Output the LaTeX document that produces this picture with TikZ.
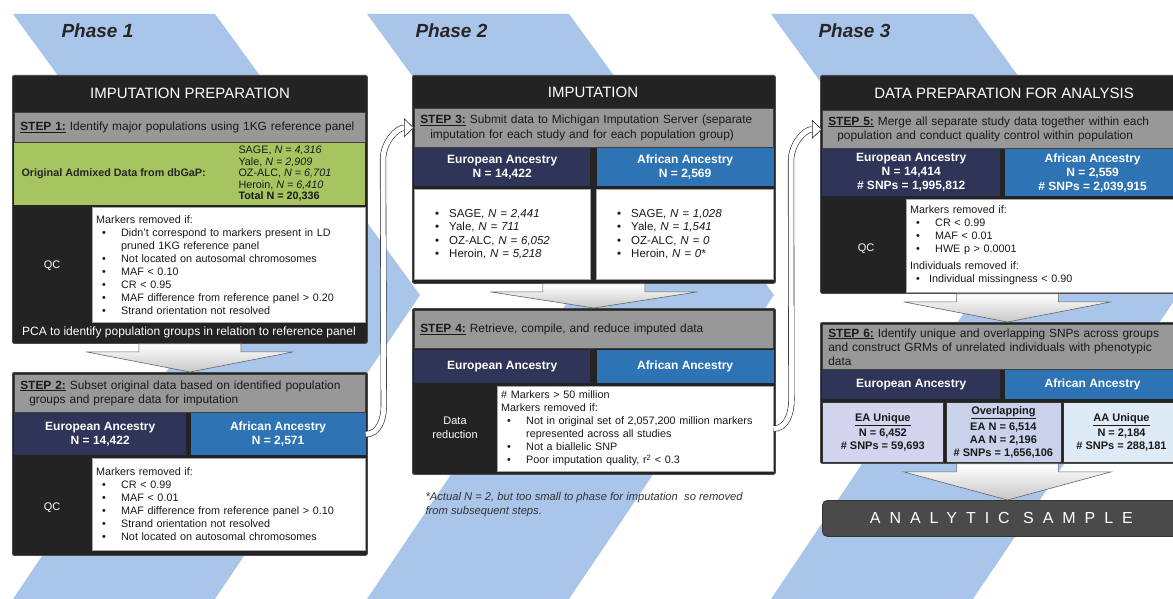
\documentclass[tikz,border=0pt]{standalone}
\usepackage{fontspec}
\setmainfont{Liberation Sans}
\usepackage{tikz}
\usetikzlibrary{arrows.meta,positioning,calc}

\definecolor{boxblack}{HTML}{232323}
\definecolor{stepgrey}{HTML}{989898}
\definecolor{eanavy}{HTML}{2F3558}
\definecolor{aablue}{HTML}{2E74B5}
\definecolor{admixgreen}{HTML}{A6C560}
\definecolor{phaseblue}{HTML}{A9C6EA}
\definecolor{eauniq}{HTML}{D3D4ED}
\definecolor{overlap}{HTML}{C9D1EB}
\definecolor{aauniq}{HTML}{DFEAF7}
\definecolor{samplegrey}{HTML}{4A4A4A}

\newcommand{\bulitem}{\hspace*{6pt}\makebox[19pt][l]{\textbullet}}
\newcommand{\bulcont}{\hspace*{25pt}}
\newcommand{\listdot}{\hspace*{17pt}\textbullet\hspace{10pt}}
\newcommand{\steplabel}[1]{\underline{\textbf{#1}}}

\begin{document}
\begin{tikzpicture}[x=1pt,y=-1pt,
 panel/.style={draw=black!70,line width=0.8pt,fill=boxblack,rounded corners=1.5pt,anchor=north west,inner sep=0pt},
 titletext/.style={text=white,font=\fontsize{15}{18}\selectfont},
 stepbar/.style={draw=black!75,line width=0.6pt,fill=stepgrey,anchor=north west,inner xsep=6pt,inner ysep=0pt,align=left,text=black!90,font=\fontsize{11.9}{14.5}\selectfont},
 eabox/.style={fill=eanavy,text=white,anchor=north west,inner sep=0pt,align=center,font=\bfseries\fontsize{12}{14}\selectfont},
 aabox/.style={eabox,fill=aablue},
 listbox/.style={fill=white,draw=black!35,anchor=north west,inner xsep=4pt,inner ysep=0pt,align=left,text=black!90,font=\fontsize{10.8}{13}\selectfont},
 sidelabel/.style={text=white,align=center,font=\fontsize{11}{13.5}\selectfont},
 phaselabel/.style={anchor=west,text=black!85,font=\bfseries\itshape\fontsize{19}{22}\selectfont},
 groupbox/.style={draw=black!80,line width=0.6pt,anchor=north west,inner sep=0pt,align=center,text=black!90,font=\bfseries\fontsize{11}{13}\selectfont},
 downarrow/.style={draw=black!60,line width=0.6pt,top color=white,bottom color=black!22},
 hollow/.style={draw=black!85,line width=0.6pt,double=white,double distance=5pt,-{Triangle[open,fill=white,length=10pt,width=19pt]}}]
\useasboundingbox (0,0) rectangle (1173,599);
\clip (0,0) rectangle (1173,599);
\fill[white] (0,0) rectangle (1173,599);

% phase bands
\foreach \x in {13,367,771}
  \fill[phaseblue] (\x,14) -- ++(202,0) -- ++(205,281) -- ++(-205,304) -- ++(-202,0) -- ++(205,-304) -- cycle;

\node[phaselabel] (ph1) at (58,31) {Phase 1};
\node[phaselabel] (ph2) at (412,31) {Phase 2};
\node[phaselabel] (ph3) at (815,31) {Phase 3};

% Phase 1
\node[panel,minimum width=355pt,minimum height=268pt] (p1) at (12,75) {};
\node[titletext] (t1) at (190,93) {IMPUTATION PREPARATION};
\node[stepbar,text width=339pt,minimum height=30pt] (st1) at (14,112) {\steplabel{STEP 1:} Identify major populations using 1KG reference panel};
\node[fill=admixgreen,anchor=north west,inner sep=0pt,minimum width=351pt,minimum height=62pt] (grn) at (14,143) {};
\node[anchor=west,text=black!85,font=\bfseries\fontsize{10.8}{13}\selectfont] (orig) at (18,174) {Original Admixed Data from dbGaP:};
\node[anchor=west,align=left,text=black!90,font=\fontsize{10.8}{11.5}\selectfont] (st1n) at (235,174) {SAGE, \textit{N = 4,316}\\Yale, \textit{N = 2,909}\\OZ-ALC, \textit{N = 6,701}\\Heroin, \textit{N = 6,410}\\\textbf{Total N = 20,336}};
\node[sidelabel] (qc1l) at (52,266) {QC};
\node[listbox,text width=265pt,minimum height=115pt] (qc1) at (92,207) {Markers removed if:\\
 \bulitem Didn't correspond to markers present in LD\\
 \bulcont pruned 1KG reference panel\\
 \bulitem Not located on autosomal chromosomes\\
 \bulitem MAF < 0.10\\
 \bulitem CR < 0.95\\
 \bulitem MAF difference from reference panel > 0.20\\
 \bulitem Strand orientation not resolved};
\node[sidelabel,font=\fontsize{12}{14}\selectfont] (pca) at (189,332) {PCA to identify population groups in relation to reference panel};

% Step 2
\node[panel,minimum width=355pt,minimum height=183pt] (s2) at (12,372) {};
\node[stepbar,text width=339pt,minimum height=38pt] (st2) at (14,374) {\steplabel{STEP 2:} Subset original data based on identified population\\\hspace*{9pt}groups and prepare data for imputation};
\node[eabox,minimum width=172pt,minimum height=42pt] (ea2) at (14,413) {European Ancestry\\N = 14,422};
\node[aabox,minimum width=175pt,minimum height=42pt,right=4pt of ea2] (aa2) {African Ancestry\\N = 2,571};
\node[sidelabel] (qc2l) at (52,508) {QC};
\node[listbox,text width=265pt,minimum height=92pt] (qc2) at (92,458) {Markers removed if:\\
 \bulitem CR < 0.99\\
 \bulitem MAF < 0.01\\
 \bulitem MAF difference from reference panel > 0.10\\
 \bulitem Strand orientation not resolved\\
 \bulitem Not located on autosomal chromosomes};

% Phase 2
\node[panel,minimum width=363pt,minimum height=208pt] (p2) at (412,75) {};
\node[titletext] (t2) at (593,92) {IMPUTATION};
\node[stepbar,text width=347pt,minimum height=39pt] (st3) at (414,108) {\steplabel{STEP 3:} Submit data to Michigan Imputation Server (separate\\\hspace*{10pt}imputation for each study and for each population group)};
\node[eabox,minimum width=176pt,minimum height=38pt] (ea3) at (414,148) {European Ancestry\\N = 14,422};
\node[aabox,minimum width=177pt,minimum height=38pt,right=6pt of ea3] (aa3) {African Ancestry\\N = 2,569};
\node[listbox,text width=168pt,minimum height=90pt,font=\fontsize{11.5}{13.5}\selectfont] (ls3e) at (414,189) {\listdot SAGE, \textit{N = 2,441}\\
 \listdot Yale, \textit{N = 711}\\
 \listdot OZ-ALC, \textit{N = 6,052}\\
 \listdot Heroin, \textit{N = 5,218}};
\node[listbox,text width=169pt,minimum height=90pt,font=\fontsize{11.5}{13.5}\selectfont] (ls3a) at (596,189) {\listdot SAGE, \textit{N = 1,028}\\
 \listdot Yale, \textit{N = 1,541}\\
 \listdot OZ-ALC, \textit{N = 0}\\
 \listdot Heroin, \textit{N = 0*}};

% Step 4
\node[panel,minimum width=363pt,minimum height=166pt] (s4) at (412,308) {};
\node[stepbar,text width=347pt,minimum height=38pt] (st4) at (414,310) {\steplabel{STEP 4:} Retrieve, compile, and reduce imputed data};
\node[eabox,minimum width=176pt,minimum height=33pt] (ea4) at (414,350) {European Ancestry};
\node[aabox,minimum width=177pt,minimum height=33pt,right=6pt of ea4] (aa4) {African Ancestry};
\node[sidelabel] (drl) at (455,428) {Data\\reduction};
\node[listbox,text width=268pt,minimum height=85pt] (dr4) at (497,386) {\# Markers > 50 million\\
 Markers removed if:\\
 \bulitem Not in original set of 2,057,200 million markers\\
 \bulcont represented across all studies\\
 \bulitem Not a biallelic SNP\\
 \bulitem Poor imputation quality, r\textsuperscript{2} < 0.3};
\node[anchor=north west,align=left,text=black!80,font=\itshape\fontsize{11.2}{13.5}\selectfont] (fn) at (422,489) {*Actual N = 2, but too small to phase for imputation\ \ so removed\\from subsequent steps.};

% Phase 3
\node[panel,minimum width=374pt,minimum height=218pt] (p3) at (820,75) {};
\node[titletext] (t3) at (1004,93) {DATA PREPARATION FOR ANALYSIS};
\node[stepbar,text width=358pt,minimum height=38pt] (st5) at (822,110) {\steplabel{STEP 5:} Merge all separate study data together within each\\\hspace*{9pt}population and conduct quality control within population};
\node[eabox,minimum width=178pt,minimum height=47pt] (ea5) at (822,149) {European Ancestry\\N = 14,414\\\# SNPs = 1,995,812};
\node[aabox,minimum width=176pt,minimum height=47pt,right=4pt of ea5] (aa5) {African Ancestry\\N = 2,559\\\# SNPs = 2,039,915};
\node[sidelabel] (qc5l) at (866,249) {QC};
\node[listbox,text width=278pt,minimum height=93pt] (qc5) at (906,199) {Markers removed if:\\
 \bulitem CR < 0.99\\
 \bulitem MAF < 0.01\\
 \bulitem HWE p > 0.0001\\[4pt]
 Individuals removed if:\\
 \hspace*{6pt}\makebox[13pt][l]{\textbullet}Individual missingness < 0.90};

% Step 6
\node[panel,minimum width=374pt,minimum height=141pt] (s6) at (820,322) {};
\node[stepbar,text width=358pt,minimum height=45pt,font=\fontsize{11.9}{14}\selectfont] (st6) at (822,324) {\steplabel{STEP 6:} Identify unique and overlapping SNPs across groups\\and construct GRMs of unrelated individuals with phenotypic\\data};
\node[eabox,minimum width=178pt,minimum height=29pt] (ea6) at (822,370) {European Ancestry};
\node[aabox,minimum width=176pt,minimum height=29pt,right=4pt of ea6] (aa6) {African Ancestry};
\node[groupbox,fill=eauniq,minimum width=121pt,minimum height=60pt] (eau) at (822,402) {\underline{EA Unique}\\[2.5pt]N = 6,452\\\# SNPs = 59,693};
\node[groupbox,fill=overlap,minimum width=115pt,minimum height=60pt,right=2pt of eau] (ovl) {\underline{Overlapping}\\[2.5pt]EA N = 6,514\\AA N = 2,196\\\# SNPs = 1,656,106};
\node[groupbox,fill=aauniq,minimum width=116pt,minimum height=60pt,right=2pt of ovl] (aau) {\underline{AA Unique}\\[2.5pt]N = 2,184\\\# SNPs = 288,181};

\node[draw=black!80,line width=0.8pt,fill=samplegrey,rounded corners=5pt,anchor=north west,minimum width=358pt,minimum height=36pt,text=white,font=\fontsize{16}{18}\selectfont\addfontfeature{LetterSpace=56}] (as) at (822,500) {ANALYTIC SAMPLE};

% block arrows between steps
\foreach \a/\b in {p1/s2,p2/s4,p3/s6,s6/as}
  \path[downarrow] ($(\a.south)+(-51,0)$) -- ++(0,8) -- ++(-53,0) -- (\a.south |- \b.north) -- ($(\a.south)+(104,8)$) -- ++(-53,0) -- ++(0,-8) -- cycle;

% hand-over arrows between phases
\draw[hollow] (aa2.east) to[out=0,in=-90] ($(aa2.east)+(18,-28)$) -- ($(st3.west)+(-31,32)$) to[out=90,in=180] (st3.west);
\draw[hollow] (dr4.east) to[out=0,in=-90] ($(dr4.east)+(18,-28)$) -- ($(st5.west)+(-31,32)$) to[out=90,in=180] (st5.west);
\end{tikzpicture}
\end{document}
